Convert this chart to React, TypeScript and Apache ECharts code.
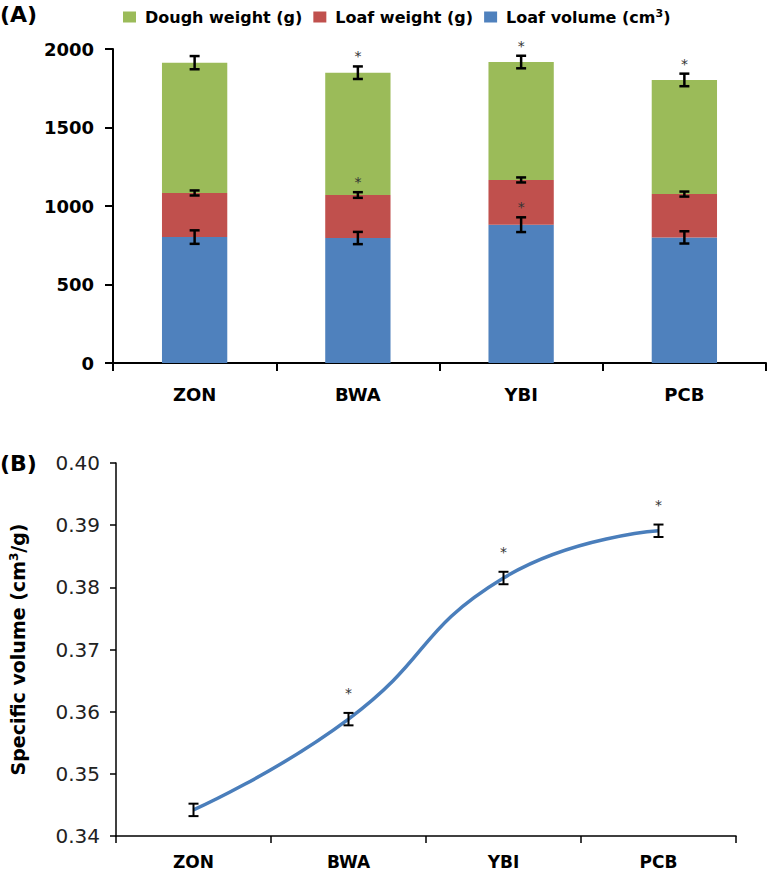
import React, { useEffect, useRef } from "react";
import * as echarts from "echarts";

const categories = ["ZON", "BWA", "YBI", "PCB"];
// Panel A (stacked segments)
const loafVolume = [802, 796, 881, 800];
const loafVolumeErr = [43, 39, 47, 39];
const loafVolumeStar = [0, 0, 1, 0];
const loafWeight = [281, 274, 285, 276];
const loafWeightErr = [16, 18, 16, 16];
const loafWeightStar = [0, 1, 0, 0];
const doughWeight = [830, 779, 751, 727];
const doughWeightErr = [42, 40, 40, 40];
const doughWeightStar = [0, 1, 1, 1];
const yTicksA = { min: 0, max: 2000, interval: 500 };
// Panel B
const specificVolume = [0.3442, 0.3588, 0.3815, 0.3891];
const specificVolumeErr = [0.001, 0.001, 0.001, 0.001];
const specificVolumeStar = [0, 1, 1, 1];
const yTicksB = { min: 0.34, max: 0.4, interval: 0.01 };

const FONT = "DejaVu Sans";

function makeErrRender(capHalf: number, lw: number, starOffset: number) {
  return (params: any, api: any) => {
    const i = api.value(0);
    const v = api.value(1);
    const e = api.value(2);
    const star = api.value(3);
    const hi = api.coord([i, v + e]);
    const lo = api.coord([i, v - e]);
    const x = hi[0];
    const style = { stroke: "#000", lineWidth: lw };
    const children: any[] = [
      { type: "line", shape: { x1: x, y1: hi[1], x2: x, y2: lo[1] }, style },
      { type: "line", shape: { x1: x - capHalf, y1: hi[1], x2: x + capHalf, y2: hi[1] }, style },
      { type: "line", shape: { x1: x - capHalf, y1: lo[1], x2: x + capHalf, y2: lo[1] }, style },
    ];
    if (star) {
      children.push({
        type: "text",
        x: x,
        y: hi[1] - starOffset,
        style: {
          text: "*",
          fill: "#333",
          font: `14px "${FONT}"`,
          textAlign: "center",
          textVerticalAlign: "middle",
        },
      });
    }
    return { type: "group", children };
  };
}

export default function App() {
  const ref = useRef<HTMLDivElement>(null);
  useEffect(() => {
    if (!ref.current) return;
    const chart = echarts.init(ref.current, undefined, { renderer: "svg" });

    const errVol = categories.map((_, i) => [i, loafVolume[i], loafVolumeErr[i], loafVolumeStar[i]]);
    const errLw = categories.map((_, i) => [
      i,
      loafVolume[i] + loafWeight[i],
      loafWeightErr[i],
      loafWeightStar[i],
    ]);
    const errDw = categories.map((_, i) => [
      i,
      loafVolume[i] + loafWeight[i] + doughWeight[i],
      doughWeightErr[i],
      doughWeightStar[i],
    ]);
    const errB = categories.map((_, i) => [i, specificVolume[i], specificVolumeErr[i], specificVolumeStar[i]]);

    const axisLine = (w: number) => ({ show: true, lineStyle: { color: "#000", width: w } });

    chart.setOption({
      animation: false,
      backgroundColor: "#fff",
      legend: {
        left: 118,
        top: 3,
        icon: "rect",
        itemWidth: 13,
        itemHeight: 11,
        itemGap: 11,
        data: ["Dough weight (g)", "Loaf weight (g)", "Loaf volume (cm3)"],
        formatter: (name: string) =>
          name === "Loaf volume (cm3)" ? "{a|Loaf volume (cm}{s|3}{a|)}" : "{a|" + name + "}",
        textStyle: {
          padding: [0, 0, 0, 4],
          rich: {
            a: { fontFamily: FONT, fontWeight: "bold", fontSize: 16, color: "#000", lineHeight: 20 },
            s: { fontFamily: FONT, fontWeight: "bold", fontSize: 11, color: "#000", lineHeight: 20, padding: [0, 0, 7, 0] },
          },
        },
      },
      graphic: [
        { type: "text", left: 0, top: 3, style: { text: "(A)", font: `bold 22px "${FONT}"`, fill: "#000" } },
        { type: "text", left: 0, top: 452, style: { text: "(B)", font: `bold 22px "${FONT}"`, fill: "#000" } },
      ],
      grid: [
        { left: 113, right: 3, top: 49, bottom: 510 },
        { left: 113, right: 33, top: 463, bottom: 37 },
      ],
      xAxis: [
        {
          type: "category",
          gridIndex: 0,
          data: categories,
          axisLine: axisLine(2),
          axisTick: { show: true, length: 8, lineStyle: { color: "#000", width: 2 } },
          axisLabel: { fontFamily: FONT, fontWeight: "bold", fontSize: 18, color: "#000", margin: 22 },
        },
        {
          type: "category",
          gridIndex: 1,
          data: categories,
          axisLine: axisLine(1.5),
          axisTick: { show: true, length: 7, lineStyle: { color: "#000", width: 1.5 } },
          axisLabel: { fontFamily: FONT, fontWeight: "bold", fontSize: 17, color: "#000", margin: 17 },
        },
      ],
      yAxis: [
        {
          type: "value",
          gridIndex: 0,
          min: yTicksA.min,
          max: yTicksA.max,
          interval: yTicksA.interval,
          splitLine: { show: false },
          axisLine: axisLine(2),
          axisTick: { show: true, length: 8, lineStyle: { color: "#000", width: 2 } },
          axisLabel: {
            fontFamily: FONT,
            fontWeight: "bold",
            fontSize: 18,
            color: "#000",
            margin: 19,
            formatter: (v: number) => String(v),
          },
        },
        {
          type: "value",
          gridIndex: 1,
          min: yTicksB.min,
          max: yTicksB.max,
          interval: yTicksB.interval,
          splitLine: { show: false },
          axisLine: axisLine(1.5),
          axisTick: { show: true, length: 6, lineStyle: { color: "#000", width: 1.5 } },
          axisLabel: {
            fontFamily: FONT,
            fontSize: 20,
            color: "#222",
            margin: 16,
            formatter: (v: number) => v.toFixed(2),
          },
          name: "{a|Specific volume (cm}{s|3}{a|/g)}",
          nameLocation: "middle",
          nameGap: 86,
          nameTextStyle: {
            rich: {
              a: { fontFamily: FONT, fontWeight: "bold", fontSize: 19, color: "#000", lineHeight: 24 },
              s: { fontFamily: FONT, fontWeight: "bold", fontSize: 12, color: "#000", lineHeight: 24, padding: [0, 0, 8, 0] },
            },
          },
        },
      ],
      series: [
        {
          name: "Loaf volume (cm3)",
          type: "bar",
          stack: "a",
          xAxisIndex: 0,
          yAxisIndex: 0,
          barCategoryGap: "60%",
          itemStyle: { color: "#4f81bd" },
          data: loafVolume,
        },
        {
          name: "Loaf weight (g)",
          type: "bar",
          stack: "a",
          xAxisIndex: 0,
          yAxisIndex: 0,
          barCategoryGap: "60%",
          itemStyle: { color: "#c0504d" },
          data: loafWeight,
        },
        {
          name: "Dough weight (g)",
          type: "bar",
          stack: "a",
          xAxisIndex: 0,
          yAxisIndex: 0,
          barCategoryGap: "60%",
          itemStyle: { color: "#9bbb59" },
          data: doughWeight,
        },
        {
          type: "custom",
          xAxisIndex: 0,
          yAxisIndex: 0,
          renderItem: makeErrRender(5, 2.5, 10),
          data: [...errVol, ...errLw, ...errDw],
          z: 10,
          clip: false,
        },
        {
          name: "Specific volume",
          type: "line",
          xAxisIndex: 1,
          yAxisIndex: 1,
          smooth: 0.5,
          symbol: "none",
          lineStyle: { color: "#4a7ebb", width: 3.5 },
          data: specificVolume,
        },
        {
          type: "custom",
          xAxisIndex: 1,
          yAxisIndex: 1,
          renderItem: makeErrRender(5, 2, 20),
          data: errB,
          z: 10,
          clip: false,
        },
      ],
    });
    return () => chart.dispose();
  }, []);
  return <div ref={ref} style={{ position: "fixed", left: 0, top: 0, width: 769, height: 873 }} />;
}
